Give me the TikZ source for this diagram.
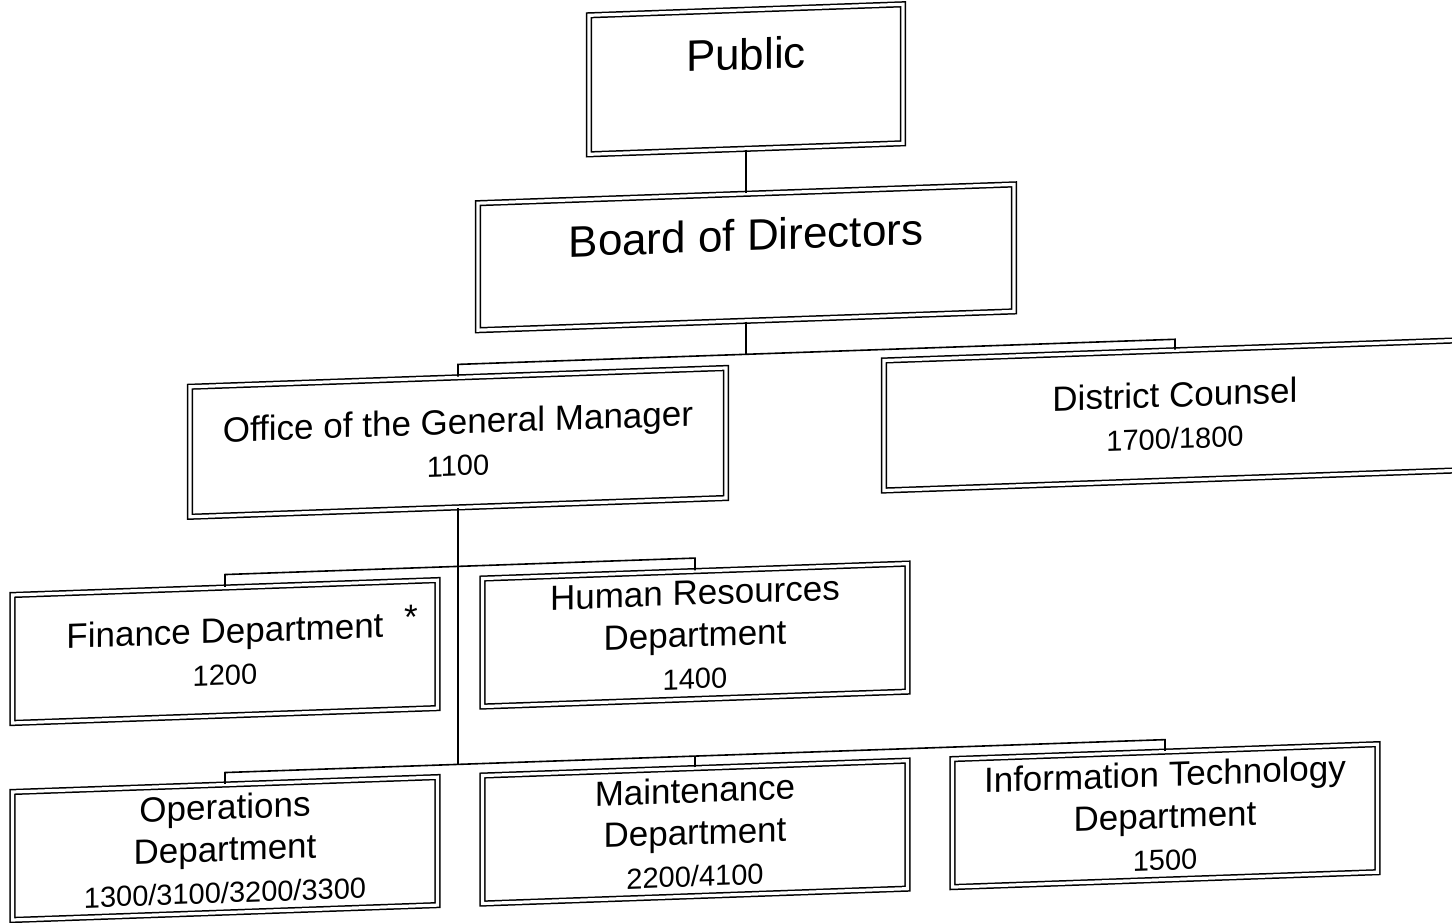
\documentclass[tikz,border=0pt]{standalone}
\usepackage{fontspec}
\setmainfont{Liberation Sans}
\usepackage{tikz}
\newcommand{\nmsize}{\fontsize{17.5}{21}\selectfont}
\newcommand{\numsize}{\fontsize{14.5}{21}\selectfont}
\tikzstyle{unit}=[rectangle,draw,double,double distance=1.6pt,line width=0.75pt,inner sep=0pt,align=center,font=\nmsize,minimum height=65pt]
\tikzstyle{head}=[unit,minimum height=0pt,font=\fontsize{22}{26}\selectfont]
\tikzstyle{dept}=[unit,minimum width=212.5pt,minimum height=64pt]
\tikzstyle{link}=[line width=0.8pt]

\begin{document}
\begin{tikzpicture}[x=0.5pt,y=-0.5pt]
\useasboundingbox (0,0) rectangle (1452,922);
\clip (0,0) rectangle (1452,922);
\begin{scope}[shift={(726,0)},yslant=0.035,shift={(-726,0)},transform shape]
\node[head,minimum width=157pt,text height=30pt,text depth=39.5pt] (public) at (746,80) {Public};
\node[head,minimum width=268pt,text height=28.5pt,text depth=35pt] (board) at (746,258) {Board of Directors};
\node[unit,minimum width=268pt] (ogm) at (458,433) {Office of the General Manager\\{\numsize 1100}};
\node[unit,minimum width=291pt] (dc) at (1175,431) {District Counsel\\{\numsize 1700/1800}};
\node[dept] (fin) at (225,634) {Finance Department\\{\numsize 1200}};
\node[font=\nmsize] (star) at (411,606) {*};
\node[dept] (hr) at (695,634) {Human Resources\\Department\\{\numsize 1400}};
\node[dept] (ops) at (225,831) {Operations\\Department\\{\numsize 1300/3100/3200/3300}};
\node[dept] (maint) at (695,831) {Maintenance\\Department\\{\numsize 2200/4100}};
\node[dept] (it) at (1165,831) {Information Technology\\Department\\{\numsize 1500}};
\coordinate (bus1) at (746,355);
\coordinate (bus2) at (458,557);
\coordinate (bus3) at (458,755);
\draw[link] (public) -- (board);
\draw[link] (board) -- (bus1);
\draw[link] (ogm.north) |- (bus1) -| (dc.north);
\draw[link] (ogm.south) -- (bus3);
\draw[link] (fin.north) |- (bus2) -| (hr.north);
\draw[link] (ops.north) |- (bus3) -| (it.north);
\draw[link] (maint.north) -- (maint.north |- bus3);
\end{scope}
\end{tikzpicture}
\end{document}
